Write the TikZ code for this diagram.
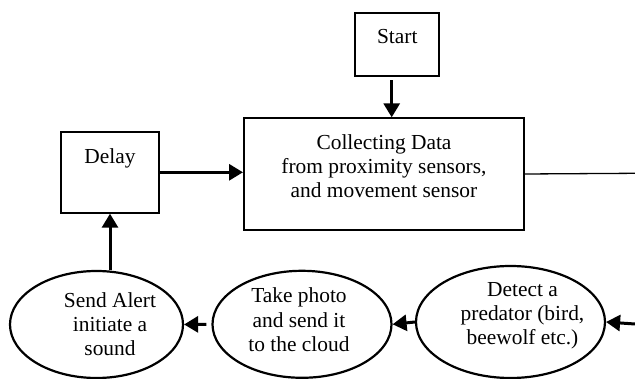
\documentclass[tikz,border=0pt]{standalone}
\usepackage{fontspec}
\setmainfont{Liberation Serif}
\usetikzlibrary{arrows.meta,shapes.geometric}
\begin{document}
\begin{tikzpicture}[x=1pt,y=-1pt,
  box/.style={draw,line width=2pt,inner sep=0pt},
  oval/.style={draw,ellipse,line width=2.2pt,inner sep=0pt},
  lbl/.style={inner sep=0pt,align=center,font=\fontsize{21.4}{24.2}\selectfont},
  arr/.style={line width=3pt,-{Triangle[length=14pt,width=16pt]}},
  thin/.style={line width=1.3pt}]
\useasboundingbox (0,0) rectangle (635,379);
% boxes
\node[box,minimum width=84pt,minimum height=62.7pt] (start) at (397,44.7) {};
\node[box,minimum width=280pt,minimum height=111.7pt] (coll) at (384,174.2) {};
\node[box,minimum width=98.6pt,minimum height=80.4pt] (delay) at (110,172.5) {};
% ellipses
\node[oval,minimum width=173pt,minimum height=107pt] (e1) at (96.5,324.5) {};
\node[oval,minimum width=179pt,minimum height=107pt] (e2) at (302,324.3) {};
\node[oval,minimum width=189pt,minimum height=112pt] (e3) at (510.5,322) {};
% labels
\node[lbl,anchor=base] (tstart) at (397.3,44) {Start};
\node[lbl,anchor=base] (tdelay) at (110,163.3) {Delay};
\node[lbl] (tcoll) at (384,166) {Collecting Data\\from proximity sensors,\\and movement sensor};
\node[lbl] (te1) at (110,324) {Send Alert\\initiate a\\sound};
\node[lbl] (te2) at (299,319.7) {Take photo\\and send it\\to the cloud};
\node[lbl] (te3) at (522.5,316) {Detect a\\predator (bird,\\beewolf etc.)};
% connectors
\coordinate (rtop) at (635,173.3);
\coordinate (rbot) at (635,324);
\draw[arr] ([xshift=-5.3pt,yshift=-3pt]start.south) -- ([xshift=-5.3pt]start.south |- coll.north);
\draw[arr] (delay.east |- 0,172.3) -- (coll.west |- 0,172.3);
\draw[thin] (coll.east |- 0,174) -- (rtop);
\draw[arr] (delay.south |- e1.north) -- (delay.south);
\draw[arr] (rbot) -- (e3.east);
\draw[arr] (e3.west) -- (e2.east);
\draw[arr] ([xshift=-5pt]e2.west) -- (e1.east);
\end{tikzpicture}
\end{document}
